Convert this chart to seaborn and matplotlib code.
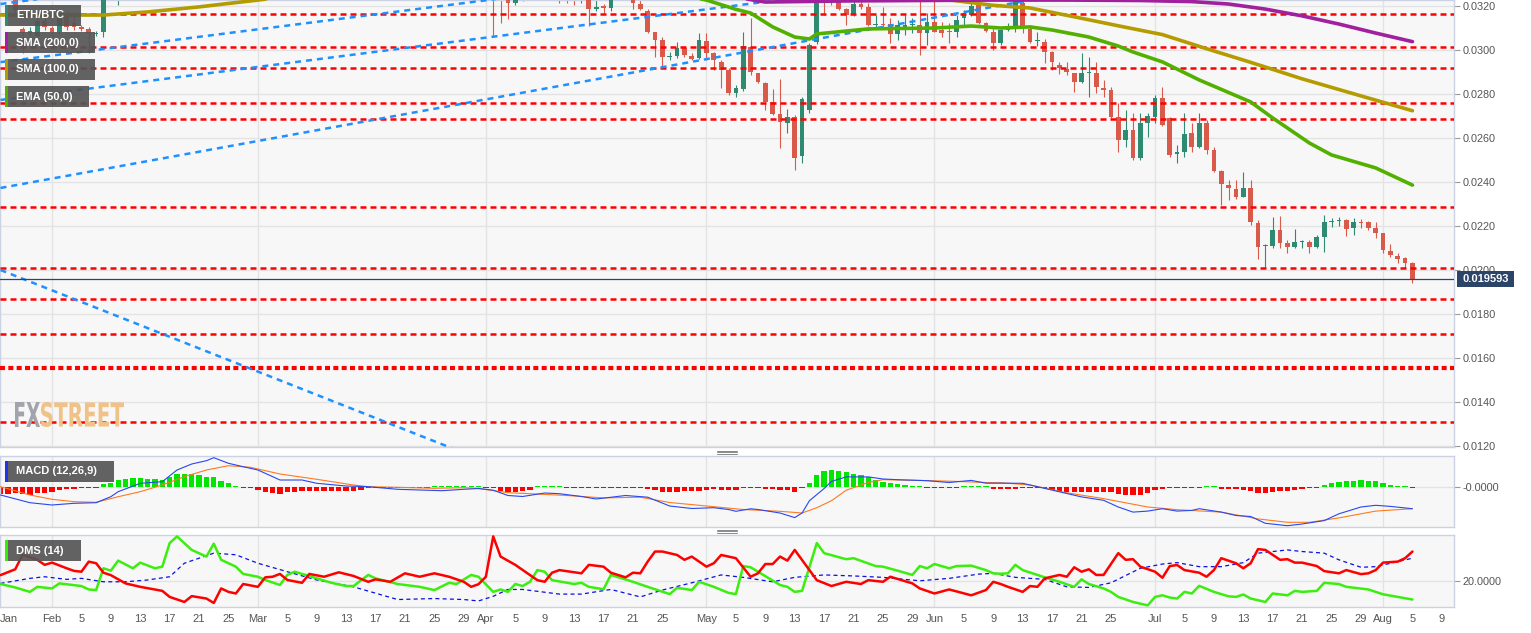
import numpy as np
import pandas as pd
import matplotlib
matplotlib.use("Agg")
import matplotlib.pyplot as plt
from matplotlib.lines import Line2D
from matplotlib.patches import Rectangle, PathPatch
from matplotlib.textpath import TextPath
from matplotlib.font_manager import FontProperties
from matplotlib.transforms import Affine2D
import seaborn as sns

START = pd.Timestamp("2019-01-25")

# ---------------- candles (day offset from START) ----------------
CANDLE_DAY = ([2, 3, 4, 5, 6, 7, 8, 9, 10, 11, 12, 13, 14, 16]
              + [67, 68, 69, 70, 71] + [76, 77, 78, 79, 80, 81, 82, 83]
              + list(range(86, 193)))

OPEN = [0.0326, 0.03096, 0.03077, 0.03064, 0.03132, 0.03100, 0.03082, 0.03168, 0.03123, 0.03105, 0.03096, 0.03073, 0.03082, 0.0326,
        0.0327, 0.0327, 0.0326, 0.03215, 0.0327,
        0.0327, 0.0327, 0.0327, 0.0326, 0.0326, 0.03185, 0.0320, 0.03189,
        0.0326, 0.03209, 0.03179, 0.0308, 0.03046, 0.0297, 0.02973, 0.03008, 0.02974, 0.02962,
        0.03042, 0.02985, 0.02947, 0.02909, 0.02806, 0.02821, 0.03015, 0.02894, 0.02851, 0.02765,
        0.02709, 0.0267, 0.02697, 0.02518, 0.02727, 0.03038, 0.0327, 0.0327, 0.0326, 0.03185,
        0.03159, 0.03209, 0.03194, 0.03114, 0.03118, 0.03118, 0.03073, 0.031, 0.03114, 0.03114,
        0.03076, 0.03129, 0.03091, 0.03085, 0.0308, 0.03144, 0.03159, 0.03205, 0.03121, 0.0308,
        0.0303, 0.03091, 0.03099, 0.03214, 0.03094, 0.0304, 0.03038, 0.02992, 0.02932, 0.02914,
        0.02894, 0.02856, 0.02894, 0.02897, 0.02829, 0.02818, 0.02694, 0.02591, 0.02636, 0.02508,
        0.0267, 0.02697, 0.0278, 0.0269, 0.02527, 0.02538, 0.02621, 0.0256, 0.0267, 0.02546,
        0.02451, 0.02386, 0.02367, 0.02333, 0.02371, 0.02212, 0.02109, 0.0211, 0.02182, 0.02124,
        0.02106, 0.02126, 0.02129, 0.02106, 0.02151, 0.02217, 0.02221, 0.02227, 0.0219, 0.02218,
        0.0222, 0.0219, 0.02167, 0.02088, 0.02065, 0.02053, 0.02031]
HIGH = [0.0327, 0.03105, 0.03105, 0.03145, 0.03145, 0.03109, 0.03182, 0.03177, 0.03159, 0.03114, 0.03105, 0.03086, 0.0327, 0.0328,
        0.0328, 0.0328, 0.0327, 0.0327, 0.0328,
        0.0328, 0.0328, 0.0328, 0.0328, 0.0327, 0.0326, 0.03209, 0.0327,
        0.0327, 0.0323, 0.03185, 0.03083, 0.03059, 0.02992, 0.03038, 0.03012, 0.02985, 0.03076,
        0.03076, 0.0299, 0.02955, 0.02918, 0.02841, 0.03083, 0.03144, 0.02897, 0.02855, 0.02821,
        0.02867, 0.0273, 0.02705, 0.02785, 0.03033, 0.0327, 0.0328, 0.0328, 0.0327, 0.0319,
        0.0323, 0.0323, 0.03215, 0.03159, 0.03197, 0.03144, 0.03136, 0.03159, 0.03144, 0.0326,
        0.03167, 0.0326, 0.03129, 0.03121, 0.03159, 0.03182, 0.0326, 0.0326, 0.03127, 0.03099,
        0.03095, 0.03124, 0.0327, 0.0326, 0.03114, 0.03083, 0.03048, 0.02996, 0.02947, 0.02944,
        0.02897, 0.02985, 0.0297, 0.02947, 0.02864, 0.02833, 0.02758, 0.02727, 0.02712, 0.02712,
        0.02712, 0.02795, 0.02833, 0.02697, 0.02568, 0.02712, 0.02667, 0.02712, 0.02682, 0.0256,
        0.02455, 0.02409, 0.02409, 0.02447, 0.02409, 0.02227, 0.02116, 0.02242, 0.02245, 0.02136,
        0.02185, 0.02136, 0.02136, 0.02159, 0.0225, 0.02235, 0.02242, 0.0223, 0.02235, 0.0223,
        0.02223, 0.0222, 0.0217, 0.02118, 0.02076, 0.02061, 0.02038]
LOW = [0.03173, 0.02986, 0.03064, 0.03059, 0.03091, 0.03073, 0.03073, 0.03091, 0.03091, 0.03086, 0.02986, 0.03064, 0.03059, 0.03205,
       0.03059, 0.03123, 0.0314, 0.03205, 0.03223,
       0.03212, 0.03215, 0.03205, 0.03215, 0.03109, 0.03177, 0.03168, 0.03179,
       0.03185, 0.03182, 0.03076, 0.0297, 0.02924, 0.02955, 0.02962, 0.02967, 0.02955, 0.02958,
       0.02955, 0.02909, 0.02826, 0.02795, 0.02785, 0.02815, 0.02886, 0.02851, 0.02727, 0.02705,
       0.02553, 0.02621, 0.02455, 0.02485, 0.02715, 0.03027, 0.03159, 0.03205, 0.03182, 0.03114,
       0.03155, 0.03185, 0.03109, 0.03099, 0.03106, 0.0303, 0.03046, 0.03068, 0.03076, 0.02977,
       0.03023, 0.0308, 0.0306, 0.03033, 0.0306, 0.03106, 0.03155, 0.03118, 0.03082, 0.030,
       0.03023, 0.03088, 0.03083, 0.03077, 0.0303, 0.03018, 0.0294, 0.02909, 0.02891, 0.02886,
       0.0281, 0.0285, 0.02788, 0.02806, 0.02788, 0.0269, 0.02538, 0.0256, 0.025, 0.025,
       0.02606, 0.02667, 0.02656, 0.02515, 0.02485, 0.02515, 0.02538, 0.02553, 0.02527, 0.02447,
       0.02296, 0.02318, 0.02321, 0.02331, 0.02205, 0.02049, 0.02008, 0.02099, 0.02099, 0.02079,
       0.02099, 0.02099, 0.02079, 0.02099, 0.02083, 0.02197, 0.022, 0.02155, 0.02159, 0.0219,
       0.02182, 0.02144, 0.02076, 0.02061, 0.02033, 0.02008, 0.0194]
CLOSE = [0.03182, 0.03077, 0.03086, 0.03132, 0.03105, 0.03082, 0.03168, 0.03105, 0.03105, 0.03096, 0.03077, 0.03077, 0.0326, 0.0327,
         0.0326, 0.0326, 0.03215, 0.0326, 0.0326,
         0.0326, 0.0326, 0.0326, 0.0327, 0.03185, 0.03197, 0.0319, 0.0326,
         0.03212, 0.03185, 0.03083, 0.03046, 0.02967, 0.02972, 0.03008, 0.02977, 0.02959, 0.03046,
         0.02985, 0.02955, 0.02909, 0.02806, 0.02826, 0.03018, 0.02901, 0.02856, 0.02765, 0.02709,
         0.02674, 0.02697, 0.02508, 0.02776, 0.03023, 0.0326, 0.0326, 0.0326, 0.03185, 0.03159,
         0.03209, 0.03194, 0.03114, 0.03118, 0.03114, 0.03073, 0.03114, 0.03114, 0.03118, 0.03076,
         0.03129, 0.03083, 0.03079, 0.03081, 0.03136, 0.03167, 0.032, 0.03121, 0.03088, 0.0303,
         0.03091, 0.03099, 0.0326, 0.031, 0.03038, 0.03042, 0.02992, 0.02944, 0.02917, 0.02899,
         0.02856, 0.02894, 0.02897, 0.0283, 0.02818, 0.02697, 0.02591, 0.02636, 0.02508, 0.0267,
         0.027, 0.0278, 0.02659, 0.02523, 0.02538, 0.02618, 0.0256, 0.0267, 0.02546, 0.02451,
         0.02391, 0.02371, 0.02333, 0.02371, 0.0222, 0.02106, 0.02114, 0.02182, 0.02121, 0.02103,
         0.02129, 0.0213, 0.02106, 0.02151, 0.0222, 0.02221, 0.02226, 0.02186, 0.02217, 0.02214,
         0.0219, 0.02167, 0.02091, 0.02068, 0.0205, 0.02031, 0.019593]
LAST_PRICE = 0.019593

# ---------------- moving averages (visible parts) ----------------
SMA100_DAY_A = [0, 7, 14, 20, 27, 35, 38]
SMA100_A = [0.03159, 0.03159, 0.03159, 0.03173, 0.03196, 0.03227, 0.0324]
SMA100_DAY_B = [125, 128, 135, 140, 146, 152, 158, 164, 170, 177, 184, 192]
SMA100_B = [0.0324, 0.03232, 0.03203, 0.03191, 0.03151, 0.0311, 0.0307, 0.03006, 0.02944, 0.02869, 0.02801, 0.02724]
SMA200_DAY = [100, 104, 115, 125, 135, 145, 155, 162, 167, 172, 177, 182, 187, 192]
SMA200 = [0.0324, 0.03218, 0.03223, 0.03225, 0.03227, 0.03227, 0.03225, 0.0322, 0.03209, 0.03186, 0.03155, 0.03118, 0.03077, 0.03038]
EMA50_DAY = [94, 96, 100, 102, 105, 108, 110, 111, 118, 127, 132, 136, 140, 143, 148, 152, 154, 158,
             163, 170, 173, 178, 181, 187, 192]
EMA50 = [0.0324, 0.03227, 0.03185, 0.03168, 0.03105, 0.03059, 0.0305, 0.03073, 0.03096, 0.031, 0.03109,
         0.031, 0.03105, 0.03091, 0.03059, 0.03018, 0.02991, 0.02946, 0.02864, 0.02764, 0.02691, 0.02577,
         0.02523, 0.02464, 0.02386]

# ---------------- drawn trend lines & levels ----------------
TREND_DAYS = [(0, 141), (0, 110), (0, 70), (0, 5), (0, 62)]
TREND_PRICES = [(0.02373, 0.03233), (0.02773, 0.03245), (0.02945, 0.03243), (0.03209, 0.03231), (0.0200, 0.01182)]
LEVELS = [0.03164, 0.03014, 0.02918, 0.02759, 0.02686, 0.02286, 0.02009, 0.01868, 0.01709, 0.01311]
LEVEL_STRONG = 0.01555

# ---------------- MACD (12,26,9), units of 1e-4 ----------------
MACD_DAY = [0, 4, 7, 10, 13, 15, 16, 19, 22, 24, 26, 28, 29, 31, 33, 35, 36, 38, 41, 43,
            47, 50, 54, 60, 63, 65, 67, 69, 71, 74, 76, 79, 81, 85, 88, 91, 94, 97, 99, 100,
            102, 103, 106, 108, 109, 110, 112, 113, 115, 118, 120, 122, 126, 129, 132, 134, 137, 139, 143, 147,
            150, 152, 154, 156, 158, 160, 162, 163, 166, 168, 170, 172, 175, 177, 180, 182, 185, 187, 189, 192]
MACD = [-4.15, -8, -9.15, -8.3, -8, -5, -2.5, 1.7, 2.5, 8.35, 11.35, 13, 14.5, 11.7, 10, 8.35, 6.7, 3.35, 3.35, 1.7,
        0.35, 0, -1.3, -2, -1.3, -0.9, -1.75, -4.4, -4.9, -3.15, -3.5, -4.9, -6.15, -4.4, -5.25, -9.65, -10.9, -10.5, -11.4, -12.3,
        -11.05, -11.4, -13.15, -15.45, -13.15, -7, -0.9, 2.65, 4.9, 4.9, 3.85, 3.5, 3, 2.1, 3.15, 1.75, 1.75, 1.7, -1.7, -5.1,
        -6.8, -10.15, -12.7, -12.2, -11, -12.2, -11.85, -11, -12.7, -14.4, -14.9, -18.3, -19.5, -18.65, -16.95, -13.55, -10.15, -9.3, -9.85, -11]
SIGNAL_DAY = [0, 4, 7, 10, 13, 16, 19, 22, 25, 28, 31, 34, 38, 43, 48, 50, 54, 59, 63, 65,
              69, 72, 77, 82, 87, 91, 96, 101, 106, 109, 111, 113, 115, 118, 120, 125, 130, 134, 136, 140,
              145, 150, 156, 160, 166, 171, 175, 178, 182, 187, 192]
SIGNAL = [0, -4.15, -6.3, -7.5, -7.8, -5, -2.5, 0.85, 5, 8.35, 10.5, 9.7, 6.35, 3.7, 0.85, 0, -0.3, -0.8, -0.5, -0.9,
          -3, -3.5, -4.4, -5.6, -5.25, -7.9, -9.65, -11.4, -12.3, -13.15, -10.5, -7, -1.75, 2.1, 3.5, 3.15, 2.65, 2.1, 2, 0.85,
          -3.05, -5.95, -10.15, -11.5, -12.7, -16.1, -17.8, -17.8, -15.6, -12.2, -11]
HIST = [-3.5, -3.5, -3.35, -3.85, -4.15, -3, -3, -2.5, -1.65, -1.35, -1, -0.65, -0.5, -0.15,
        1.15, 2, 3.35, 3.65, 4.15, 4.15, 3.65, 3.65, 3.35, 5, 6.15, 6.35, 6.15, 5.85, 5, 4.65, 3, 1.65, 0.35, -0.15,
        -0.85, -1.65, -2.5, -3, -3.65, -2.5, -2.5, -2.15, -2.15, -2.15, -2.15, -2.15, -2.15, -2, -2, -1.65, -0.5, -0.5,
        -0.35, -0.35, -0.35, -0.35, -0.35, -0.25, -0.15, 0.15, 0.15, 0.35, 0.35, 0.35, 0.35, 0.15, -0.25, -0.75,
        -2, -2.5, -2.5, -2.25, -1.5, 0.15, 0.15, 0.15, 0.15, -0.75, -0.75, -0.75, -0.75, -0.75, -0.75, -0.75, -0.25, -0.25, -0.25, -0.25,
        -1.25, -1.5, -2.5, -2.5, -2.5, -2.25, -2, -2, -1.75, -1.25, -1.5, -1.75, -1.75, -0.25, -0.25, -0.25, -1.25, -1.25, -1.5, -1.5, -2.5, -0.5,
        1.75, 6, 8, 8.25, 8, 7.5, 6.5, 6, 4.75, 3.5, 2.5, 1.75, 1.25, 0.75, 0.35, 0.15,
        -0.25, -0.25, -0.25, -0.25, -0.25, 0.15, 0.15, 0.15, 0.15, -1, -1, -1, -1, -0.25, -0.25, -0.5, -0.75,
        -1.75, -2.25, -2.5, -2.5, -2.5, -2.5, -2.5, -2.5, -2.75, -3.5, -4, -4.25, -4, -3, -1.5,
        -1, -0.75, -0.75, -0.5, -0.25, -0.15, 0.1, 0.1,
        -1, -1, -1.25, -1.5, -2, -3, -3.25, -2.75, -2.25, -2, -1.75, -1.25, -0.75, -0.35,
        0.75, 1.75, 2.25, 2.75, 3, 3.25, 3, 2.75, 1.75, 1, 0.5, 0.15, -0.15]

# ---------------- DMS (14) ----------------
DIM_DAY = [0, 2, 3, 5, 6, 7, 9, 10, 11, 12, 13, 14, 15, 17, 19, 22, 23, 25, 26, 28,
           29, 30, 31, 32, 33, 35, 36, 37, 38, 39, 41, 42, 44, 46, 48, 50, 51, 53, 55, 57,
           59, 61, 63, 64, 65, 66, 67, 68, 70, 73, 74, 75, 76, 79, 80, 82, 83, 85, 86, 87,
           88, 89, 90, 92, 93, 94, 96, 97, 98, 100, 102, 103, 104, 105, 106, 107, 108, 111, 113, 115,
           117, 118, 120, 121, 124, 125, 127, 129, 132, 134, 135, 136, 137, 139, 140, 141, 142, 144, 145, 146,
           147, 148, 149, 150, 152, 153, 154, 155, 157, 158, 159, 160, 161, 163, 164, 165, 166, 168, 169, 170,
           171, 172, 174, 175, 176, 177, 179, 180, 182, 183, 185, 186, 187, 188, 190, 191, 192]
DI_MINUS = [22.8, 25.7, 32.9, 30.4, 27.9, 29, 26.2, 24.9, 24.5, 29.5, 28.7, 24, 22.8, 18.7, 17, 15, 12, 9.5, 12.4, 11.2,
            9, 16.2, 14.5, 13.7, 18.4, 17, 21.7, 22, 23.4, 20.4, 19, 23.4, 22, 24.2, 22.4, 19.5, 20.7, 19.5, 23.7, 22,
            23.7, 22, 19.5, 17, 18.3, 22, 42, 32, 27.9, 20.3, 19.5, 24, 25.3, 23.7, 27.9, 27, 24, 21.7, 24, 23.7,
            29.5, 34.5, 34.5, 32.8, 30.4, 32, 27, 28.7, 32.8, 31.2, 22, 23.7, 28.3, 28.3, 32, 30, 35.3, 20.3, 17.4, 19.5,
            18.4, 20.3, 19.5, 22, 18.7, 16.2, 13.7, 15.7, 12.8, 15.4, 19.5, 18.4, 17, 14.5, 17.4, 17, 21.2, 22.9, 22, 26.7,
            24.5, 25.7, 22.9, 22.9, 33.7, 30.4, 30.7, 27, 24.5, 21.5, 27.3, 27.8, 25.3, 24, 22, 25.3, 31.2, 28.7, 26.2, 28.7,
            35.7, 35.3, 30.4, 30.7, 29, 29, 27.3, 24.8, 23.7, 25.3, 23.3, 23.7, 25.3, 29, 29.5, 31.2, 34.5]
DIP_DAY = [0, 2, 4, 5, 7, 8, 11, 12, 13, 14, 15, 16, 18, 19, 21, 22, 23, 24, 26, 28,
           29, 30, 32, 33, 35, 36, 38, 39, 40, 41, 43, 45, 47, 48, 50, 51, 54, 57, 59, 61,
           62, 64, 65, 67, 68, 69, 70, 71, 72, 73, 74, 75, 78, 79, 80, 82, 83, 86, 88, 91,
           92, 94, 95, 97, 99, 100, 101, 102, 103, 106, 107, 108, 109, 111, 112, 115, 116, 119, 120, 122,
           124, 125, 126, 127, 129, 130, 132, 134, 135, 136, 137, 138, 139, 141, 142, 144, 146, 147, 148, 150,
           151, 152, 154, 156, 157, 158, 159, 160, 161, 162, 163, 165, 167, 168, 169, 170, 172, 173, 175, 176,
           177, 179, 180, 182, 183, 186, 188, 190, 192]
DI_PLUS = [18.4, 16.7, 14.5, 17, 16.2, 18.7, 17.4, 15.7, 15.4, 26.2, 25, 30, 26.2, 29, 26.2, 27, 38.7, 42, 35.3, 32,
           38.4, 30.4, 27, 23.4, 22, 20.4, 17.9, 22.9, 24.5, 23.4, 21.2, 19, 17.4, 17.4, 22.9, 21.2, 18.4, 17, 15.4, 19,
           18.4, 22.9, 22, 14.5, 15.7, 14.5, 18.4, 17.4, 19.5, 25.3, 24.5, 20.3, 18.4, 19, 17, 15.8, 22.9, 19.5, 17, 13.4,
           16.5, 15.4, 19.5, 17, 14, 13.4, 27.3, 26.7, 24.5, 17.9, 17, 14.5, 15, 38.7, 33.7, 30.7, 31.2, 27.3, 27, 25,
           22.9, 27.3, 26.2, 28.3, 26.2, 27.3, 27.5, 25.3, 23.7, 23.5, 23.7, 27.9, 25.3, 22.9, 21.7, 19.5, 17, 20.7, 18.4, 16.2,
           14.5, 12, 9.5, 7.8, 12, 12.8, 11.7, 11.2, 14.5, 13.7, 17.5, 14.5, 12.3, 12, 13.2, 11.2, 9.5, 13.7, 12.8, 15,
           14.5, 15, 19, 18.4, 17, 15.7, 13.3, 12, 10.7]
ADX_DAY = [0, 4, 6, 9, 11, 14, 17, 20, 23, 25, 29, 32, 35, 39, 43, 48, 52, 54, 59, 63,
           65, 67, 69, 71, 76, 79, 83, 87, 90, 94, 98, 101, 105, 108, 112, 116, 120, 125, 129, 133,
           135, 138, 142, 145, 148, 151, 155, 158, 160, 163, 166, 169, 171, 175, 177, 180, 182, 185, 187, 190, 192]
ADX = [18.7, 21.2, 22, 20.7, 21.2, 19.5, 19.5, 20.4, 22, 28.7, 33.7, 32.9, 28.7, 24.5, 20.4, 17, 12.8, 10.7, 11.2, 10.7,
       10, 12.3, 15.7, 15.7, 13.4, 13.4, 15.7, 12, 15.4, 19, 22.9, 21.7, 19.5, 21.7, 22.9, 22.4, 21.7, 20, 21.2, 23.3,
       23.7, 21.7, 20.7, 17, 16.7, 19, 26.2, 28.3, 29, 27, 27, 29, 33.7, 35.3, 34.5, 33.7, 30.4, 26.7, 27, 29.5, 31.2]

# ---------------- colors ----------------
UP, DOWN = "#2f8a72", "#d9594a"
C_SMA200, C_SMA100, C_EMA50 = "#a0209e", "#b39b00", "#52b000"
TREND_BLUE, LEVEL_RED = "#1e90ff", "#ff0000"
PANEL_BG, GRID, BORDER, NAVY = "#f7f7f7", "#e3e3e3", "#cbd2e4", "#2b4468"

W, H = 1531, 633


def days(d):
    return START + pd.to_timedelta(np.asarray(d, dtype=float), unit="D")


def fx(x):
    return x / W


def fy(y):
    return 1 - y / H


sns.set_style("white")
plt.rcParams["font.family"] = ["Liberation Sans", "DejaVu Sans"]

fig = plt.figure(figsize=(W / 100, H / 100), dpi=100)
ax = fig.add_axes([0, fy(447), fx(1454), 447 / H])
axm = fig.add_axes([0, fy(527), fx(1454), 71 / H], sharex=ax)
axd = fig.add_axes([0, fy(607), fx(1454), 72 / H], sharex=ax)

x_lo, x_hi = START - pd.Timedelta(days=0.07), START + pd.Timedelta(days=197.65)
month_starts = pd.date_range("2019-02-01", "2019-08-01", freq="MS")

for a in (ax, axm, axd):
    a.set_facecolor(PANEL_BG)
    for s in a.spines.values():
        s.set_color(BORDER)
        s.set_linewidth(1)
    for m in month_starts:
        a.axvline(m, color=GRID, lw=1, zorder=0)
    a.yaxis.tick_right()
    a.tick_params(axis="y", length=4, width=0.8, color="#9a9a9a", labelsize=7.8,
                  labelcolor="#555555", pad=2)
    a.tick_params(axis="x", length=0)

# ---- main price panel ----
ax.set_ylim(0.011955, 0.032273)
yt = np.round(np.arange(0.012, 0.0321, 0.002), 4)
ax.set_yticks(yt)
ax.set_yticklabels([f"{v:.4f}" for v in yt])
for v in yt:
    ax.axhline(v, color=GRID, lw=1, zorder=0)

# watermark
def wordmark(text, x0, x1, y_top, y_bot, color):
    tp = TextPath((0, 0), text, size=1, prop=FontProperties(family="DejaVu Sans", weight="bold"))
    bb = tp.get_extents()
    sx = (x1 - x0) / bb.width
    sy = (y_bot - y_top) / bb.height
    tr = Affine2D().translate(-bb.x0, -bb.y0).scale(sx, sy).translate(x0, H - y_bot)
    fig.patches.append(PathPatch(tr.transform_path(tp), transform=None, facecolor=color,
                                 edgecolor="none", zorder=0.5, figure=fig))

wordmark("FX", 15, 40, 402, 427, "#a2a4ab")
wordmark("STREET", 41, 124, 402, 427, "#f1c288")

cd = days(CANDLE_DAY)
o, h, l, c = map(np.asarray, (OPEN, HIGH, LOW, CLOSE))
cols = np.where(c >= o, UP, DOWN)
ax.vlines(cd, l, h, colors=cols, lw=0.8, zorder=2)
body = np.maximum(np.abs(c - o), 0.00005)
ax.bar(cd, body, bottom=np.minimum(o, c), width=0.64, color=cols, linewidth=0, zorder=3)

for lv in LEVELS:
    ax.axhline(lv, color=LEVEL_RED, lw=1.8, linestyle=(0, (2.4, 1.6)), zorder=4)
ax.axhline(LEVEL_STRONG, color=LEVEL_RED, lw=3.0, linestyle=(0, (1.2, 0.8)), zorder=4)

for dd, pp in zip(TREND_DAYS, TREND_PRICES):
    ax.plot(days(dd), pp, color=TREND_BLUE, lw=1.8, linestyle=(0, (2.4, 2.0)), zorder=4)

ma_style = dict(ax=ax, estimator=None, errorbar=None, legend=False, linewidth=2.6, zorder=5)
sns.lineplot(x=days(SMA100_DAY_A), y=SMA100_A, color=C_SMA100, **ma_style)
sns.lineplot(x=days(SMA100_DAY_B), y=SMA100_B, color=C_SMA100, **ma_style)
sns.lineplot(x=days(SMA200_DAY), y=SMA200, color=C_SMA200, **ma_style)
sns.lineplot(x=days(EMA50_DAY), y=EMA50, color=C_EMA50, **ma_style)

ax.axhline(LAST_PRICE, color=NAVY, lw=0.9, zorder=6)
ax.set_ylabel("")

# ---- MACD panel ----
axm.set_ylim(-20.15, 15.35)
axm.set_yticks([0])
axm.set_yticklabels(["-0.0000"])
axm.axhline(0, color=GRID, lw=1, zorder=0)
hd = days(np.arange(len(HIST)))
hv = np.asarray(HIST)
hv_draw = np.where(np.abs(hv) < 0.4, np.sign(hv) * 0.4, hv)
axm.bar(hd, hv_draw, width=0.72, color=np.where(hv >= 0, "#00e600", "#ff0000"), linewidth=0, zorder=2)
line_kw = dict(ax=axm, estimator=None, errorbar=None, legend=False, linewidth=0.8, zorder=3)
sns.lineplot(x=days(SIGNAL_DAY), y=SIGNAL, color="#ff7a1f", **line_kw)
sns.lineplot(x=days(MACD_DAY), y=MACD, color="#2848f0", **line_kw)
axm.set_ylabel("")

# ---- DMS panel ----
axd.set_ylim(7.0, 42.7)
axd.set_yticks([20])
axd.set_yticklabels(["20.0000"])
axd.axhline(20, color=GRID, lw=1, zorder=0)
dk = dict(ax=axd, estimator=None, errorbar=None, legend=False, zorder=3)
sns.lineplot(x=days(ADX_DAY), y=ADX, color="#0a10e0", linewidth=0.9, linestyle=(0, (3.2, 2.6)), **dk)
sns.lineplot(x=days(DIP_DAY), y=DI_PLUS, color="#3cee10", linewidth=1.8, **dk)
sns.lineplot(x=days(DIM_DAY), y=DI_MINUS, color="#ff0000", linewidth=1.8, **dk)
axd.set_ylabel("")

# ---- x axis ----
ticks, labels = [START + pd.Timedelta(days=1.2)], ["Jan"]
for m in month_starts:
    ticks.append(m)
    labels.append(m.strftime("%b"))
    last = 29 if m.days_in_month == 31 else 25
    for dday in range(5, last + 1, 4):
        if m.month == 8 and dday > 9:
            break
        ticks.append(m + pd.Timedelta(days=dday - 1))
        labels.append(str(dday))
axd.set_xlim(x_lo, x_hi)
axd.set_xticks(ticks)
axd.set_xticklabels(labels, fontsize=8, color="#555555")
axd.tick_params(axis="x", pad=5)
ax.tick_params(axis="x", labelbottom=False)
axm.tick_params(axis="x", labelbottom=False)
for a in (ax, axm, axd):
    a.set_xlabel("")

# ---- legend tags ----
def tag(x0, y0, x1, y1, strip, text):
    fig.patches.append(Rectangle((fx(x0), fy(y1)), fx(x1 - x0), (y1 - y0) / H, transform=fig.transFigure,
                                 facecolor="#555555", alpha=0.92, edgecolor="none", zorder=10, figure=fig))
    fig.patches.append(Rectangle((fx(x0), fy(y1)), fx(2.5), (y1 - y0) / H, transform=fig.transFigure,
                                 facecolor=strip, edgecolor="none", zorder=11, figure=fig))
    fig.text(fx(x0 + 11), fy((y0 + y1) / 2), text, color="white", fontsize=8, fontweight="bold",
             va="center", ha="left", zorder=12)

tag(5, 5, 81, 26, UP, "ETH/BTC")
tag(5, 32, 95, 53, C_SMA200, "SMA (200,0)")
tag(5, 59, 95, 80, C_SMA100, "SMA (100,0)")
tag(5, 86, 89, 107, C_EMA50, "EMA (50,0)")
tag(5, 461, 114, 482, "#2233ee", "MACD (12,26,9)")
tag(5, 540, 81, 561, "#33ee00", "DMS (14)")

# last price box
fig.patches.append(Rectangle((fx(1457), fy(287)), fx(57), 16 / H, transform=fig.transFigure,
                             facecolor=NAVY, edgecolor="none", zorder=10, figure=fig))
fig.text(fx(1485.5), fy(279), f"{LAST_PRICE:.6f}", color="white", fontsize=8, fontweight="bold",
         ha="center", va="center", zorder=11)

# panel handles
for yc in (452, 531):
    for dy in (-1.5, 0, 1.5):
        fig.add_artist(Line2D([fx(717), fx(737)], [fy(yc + dy), fy(yc + dy)], transform=fig.transFigure,
                              color="#8a8a8a", lw=0.7))

fig.savefig("out.png", dpi=100, facecolor="white")
